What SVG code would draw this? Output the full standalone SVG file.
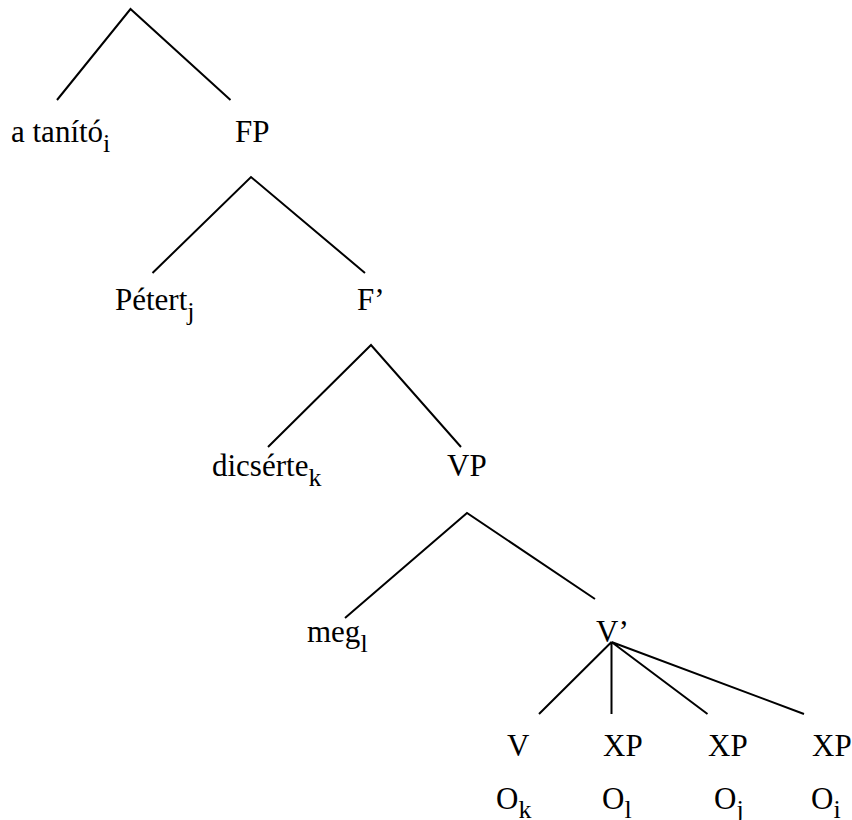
<svg xmlns="http://www.w3.org/2000/svg" width="852" height="820" viewBox="0 0 852 820">
<style>
.t{font-family:"Liberation Serif","Times New Roman",serif;font-size:31px;fill:#000}
.s{font-family:"Liberation Serif","Times New Roman",serif;font-size:26px}
.e{stroke:#000;stroke-width:2;fill:none;stroke-linecap:butt}
</style>
<rect width="852" height="820" fill="#fff"/>
<g id="connectors" class="e">
<path d="M57,100 L130.5,9 L230.5,100"/>
<path d="M152.5,273 L251,177 L365,273"/>
<path d="M268,447 L371,345 L461,447"/>
<path d="M345,618 L467,513 L595,599"/>
<path d="M539,714 L611.5,642 M611.5,642 L611.5,714 M611.5,642 L707.5,714 M611.5,642 L804,714"/>
</g>
<g id="n-tanito"><text class="t" x="11" y="142">a tanító<tspan class="s" dy="10">i</tspan></text></g>
<g id="n-FP"><text class="t" x="235" y="142">FP</text></g>
<g id="n-petert"><text class="t" x="115" y="310">Pétert<tspan class="s" dy="10">j</tspan></text></g>
<g id="n-F1"><text class="t" x="357" y="310">F’</text></g>
<g id="n-dicserte"><text class="t" x="212" y="476">dicsérte<tspan class="s" dy="10">k</tspan></text></g>
<g id="n-VP"><text class="t" x="447" y="476">VP</text></g>
<g id="n-meg"><text class="t" x="307" y="642">meg<tspan class="s" dy="10">l</tspan></text></g>
<g id="n-V1"><text class="t" x="596" y="642">V’</text></g>
<g id="n-V"><text class="t" x="507" y="756">V</text></g>
<g id="n-XP1"><text class="t" x="603" y="756">XP</text></g>
<g id="n-XP2"><text class="t" x="708" y="756">XP</text></g>
<g id="n-XP3"><text class="t" x="812" y="756">XP</text></g>
<g id="n-Ok"><text class="t" x="496" y="809">O<tspan class="s" dy="9">k</tspan></text></g>
<g id="n-Ol"><text class="t" x="602" y="809">O<tspan class="s" dy="9">l</tspan></text></g>
<g id="n-Oj"><text class="t" x="714" y="809">O<tspan class="s" dy="9">j</tspan></text></g>
<g id="n-Oi"><text class="t" x="811" y="809">O<tspan class="s" dy="9">i</tspan></text></g>
</svg>
